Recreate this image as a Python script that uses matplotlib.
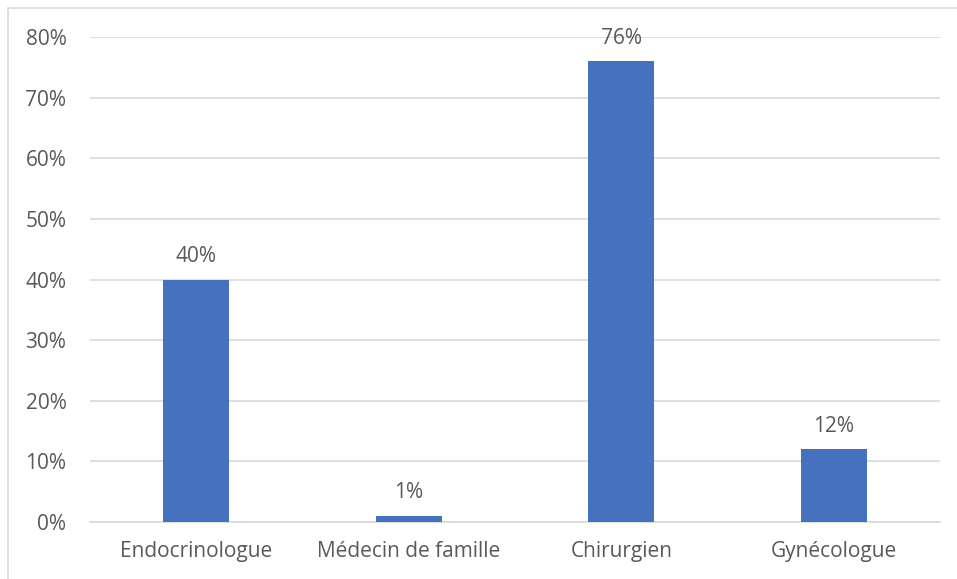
import matplotlib.pyplot as plt
from matplotlib.patches import Rectangle
from matplotlib.ticker import PercentFormatter

# Data
categories = ['Endocrinologue', 'Médecin de famille', 'Chirurgien', 'Gynécologue']
values = [0.40, 0.01, 0.76, 0.12]
labels = ['40%', '1%', '76%', '12%']

BAR_COLOR = '#4571bd'
TEXT_COLOR = '#595959'
GRID_COLOR = '#d9d9d9'

plt.rcParams['font.family'] = ['Open Sans', 'DejaVu Sans']

fig = plt.figure(figsize=(9.57, 5.79), dpi=100)
fig.patches.append(Rectangle((8 / 957, -0.1), 1.2, 1 - 8 / 579 + 0.1,
                             transform=fig.transFigure, fill=False,
                             edgecolor=GRID_COLOR, linewidth=1.2))

ax = fig.add_axes([90 / 957, 1 - 522 / 579, 850 / 957, (522 - 37) / 579])
x = range(len(categories))
bars = ax.bar(x, values, width=0.31, color=BAR_COLOR, zorder=3)

for rect, lab in zip(bars, labels):
    ax.annotate(lab, (rect.get_x() + rect.get_width() / 2, rect.get_height()),
                xytext=(0, 9), textcoords='offset points', ha='center', va='bottom',
                fontsize=15, color=TEXT_COLOR)

ax.set_xlim(-0.5, 3.5)
ax.set_ylim(0, 0.8)
ax.set_yticks([i / 10 for i in range(9)])
ax.yaxis.set_major_formatter(PercentFormatter(1.0, decimals=0))
ax.set_xticks(list(x))
ax.set_xticklabels(categories)

ax.grid(axis='y', color=GRID_COLOR, linewidth=1.2, zorder=0)
for s in ['top', 'right', 'left']:
    ax.spines[s].set_visible(False)
ax.spines['bottom'].set_color(GRID_COLOR)
ax.spines['bottom'].set_linewidth(1.2)
ax.tick_params(axis='both', length=0, labelsize=15, colors=TEXT_COLOR)
ax.tick_params(axis='y', pad=17)
ax.tick_params(axis='x', pad=14)

fig.savefig('out.png', dpi=100)
